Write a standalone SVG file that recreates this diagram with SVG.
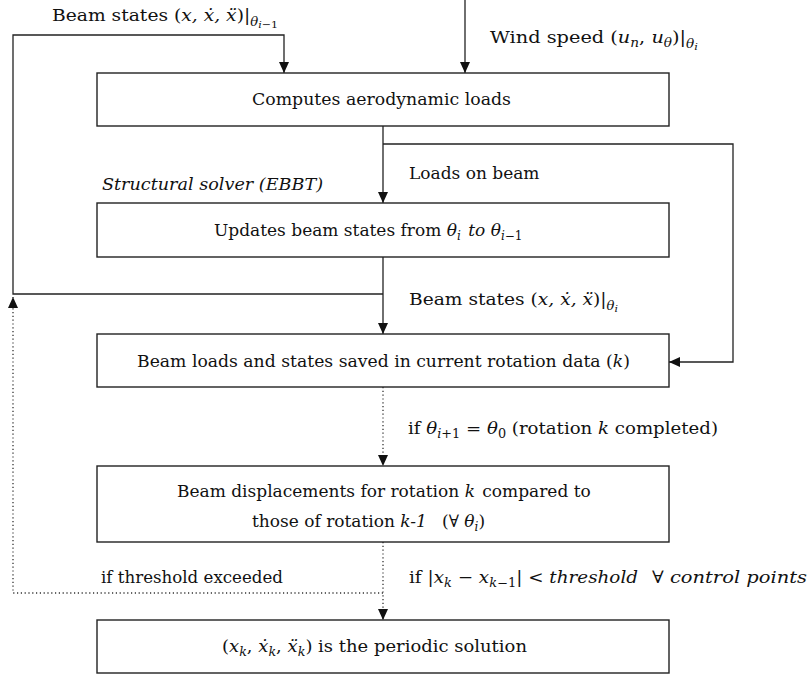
<svg xmlns="http://www.w3.org/2000/svg" width="810" height="677" viewBox="0 0 810 677">
<style>
.t{font-family:"DejaVu Serif","Liberation Serif",serif;font-size:17px;fill:#111}
.m{font-style:italic}
.s{font-size:12px}
.ss{font-size:10px}
.box{fill:#fff;stroke:#222;stroke-width:1.4}
.ln{fill:none;stroke:#222;stroke-width:1.3}
.dot{fill:none;stroke:#333;stroke-width:1.3;stroke-dasharray:1.2 2.6}
</style>
<defs>
<marker id="ah" viewBox="0 0 11 10" refX="11" refY="5" markerWidth="11" markerHeight="10" markerUnits="userSpaceOnUse" orient="auto">
<path d="M0,0 L11,5 L0,10 z" fill="#111"/>
</marker>
</defs>
<g id="connectors">
<path class="ln" d="M383,294 H13 V35 H284 V73" marker-end="url(#ah)"/>
<path class="ln" d="M465,0 V73" marker-end="url(#ah)"/>
<path class="ln" d="M383,126 V203" marker-end="url(#ah)"/>
<path class="ln" d="M383,144 H733 V362 H669" marker-end="url(#ah)"/>
<path class="ln" d="M383,257 V334" marker-end="url(#ah)"/>
<path class="dot" d="M383,387 V466" marker-end="url(#ah)"/>
<path class="dot" d="M383,542 V620" marker-end="url(#ah)"/>
<path class="dot" d="M383,593 H13 V297" marker-end="url(#ah)"/>
</g>
<g id="labels">
<text class="t" x="52" y="21" textLength="226" lengthAdjust="spacingAndGlyphs">Beam states (<tspan class="m">x, ẋ, ẍ</tspan>)|<tspan class="m s" dy="5">θ</tspan><tspan class="m ss" dy="2">i</tspan><tspan class="ss">−1</tspan></text>
<text class="t" x="490" y="43" textLength="208" lengthAdjust="spacingAndGlyphs">Wind speed (<tspan class="m">u</tspan><tspan class="m s" dy="4">n</tspan><tspan dy="-4">, </tspan><tspan class="m">u</tspan><tspan class="m s" dy="4">θ</tspan><tspan dy="-4">)|</tspan><tspan class="m s" dy="5">θ</tspan><tspan class="m ss" dy="2">i</tspan></text>
<text class="t" x="409" y="179">Loads on beam</text>
<text class="t m" x="102" y="190" textLength="221" lengthAdjust="spacingAndGlyphs">Structural solver (EBBT)</text>
<text class="t" x="409" y="305" textLength="209" lengthAdjust="spacingAndGlyphs">Beam states (<tspan class="m">x, ẋ, ẍ</tspan>)|<tspan class="m s" dy="5">θ</tspan><tspan class="m ss" dy="2">i</tspan></text>
<text class="t" x="408" y="434" textLength="310" lengthAdjust="spacingAndGlyphs">if <tspan class="m">θ</tspan><tspan class="s" dy="4"><tspan class="m">i</tspan>+1</tspan><tspan dy="-4"> = </tspan><tspan class="m">θ</tspan><tspan class="s" dy="4">0</tspan><tspan dy="-4"> (rotation </tspan><tspan class="m">k</tspan> completed)</text>
<text class="t" x="101" y="583" textLength="182" lengthAdjust="spacingAndGlyphs">if threshold exceeded</text>
<text class="t" x="409" y="583" textLength="229" lengthAdjust="spacingAndGlyphs">if |<tspan class="m">x</tspan><tspan class="m s" dy="4">k</tspan><tspan dy="-4"> − </tspan><tspan class="m">x</tspan><tspan class="s" dy="4"><tspan class="m">k</tspan>−1</tspan><tspan dy="-4">| &lt; </tspan><tspan class="m">threshold</tspan></text>
<text class="t m" x="652" y="583" textLength="155" lengthAdjust="spacingAndGlyphs">∀ control points</text>
</g>
<g id="n1">
<rect class="box" x="97" y="73" width="572" height="53"/>
<text class="t" x="252" y="105" textLength="259" lengthAdjust="spacingAndGlyphs">Computes aerodynamic loads</text>
</g>
<g id="n2">
<rect class="box" x="97" y="203" width="572" height="54"/>
<text class="t" x="214" y="236">Updates beam states from <tspan class="m">θ</tspan><tspan class="m s" dy="4">i</tspan><tspan class="m" dy="-4" dx="2"> to θ</tspan><tspan class="s" dy="4"><tspan class="m">i</tspan>−1</tspan></text>
</g>
<g id="n3">
<rect class="box" x="97" y="334" width="572" height="53"/>
<text class="t" x="137" y="367" textLength="493" lengthAdjust="spacingAndGlyphs">Beam loads and states saved in current rotation data (<tspan class="m">k</tspan>)</text>
</g>
<g id="n4">
<rect class="box" x="97" y="466" width="572" height="76"/>
<text class="t" x="177" y="497">Beam displacements for rotation <tspan class="m">k</tspan><tspan dx="2"> compared to</tspan></text>
<text class="t" x="252" y="527">those of rotation <tspan class="m">k-1</tspan></text>
<text class="t" x="442" y="527">(∀ <tspan class="m">θ</tspan><tspan class="m s" dy="4">i</tspan><tspan dy="-4">)</tspan></text>
</g>
<g id="n5">
<rect class="box" x="97" y="620" width="572" height="53"/>
<text class="t" x="222" y="652" textLength="305" lengthAdjust="spacingAndGlyphs">(<tspan class="m">x</tspan><tspan class="m s" dy="4">k</tspan><tspan dy="-4">, </tspan><tspan class="m">ẋ</tspan><tspan class="m s" dy="4">k</tspan><tspan dy="-4">, </tspan><tspan class="m">ẍ</tspan><tspan class="m s" dy="4">k</tspan><tspan dy="-4">) is the periodic solution</tspan></text>
</g>
</svg>
